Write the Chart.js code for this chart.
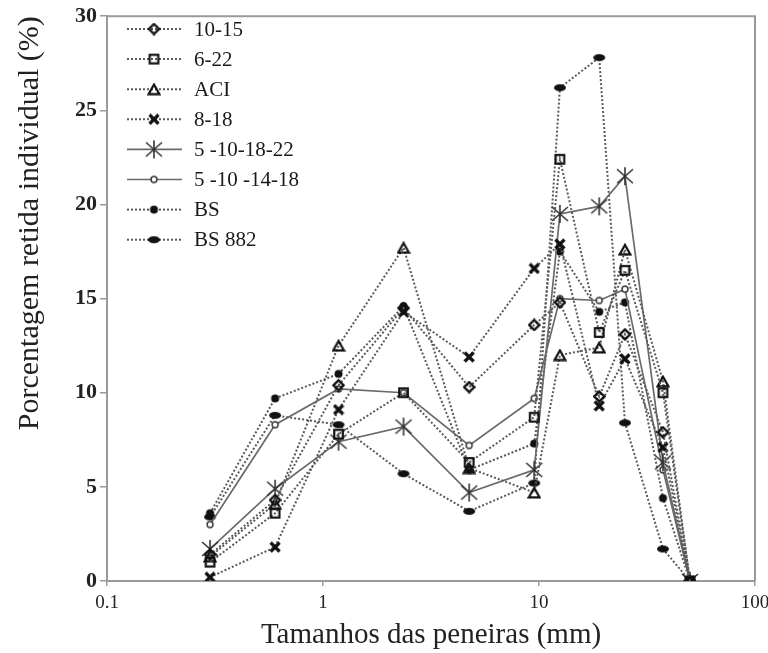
<!DOCTYPE html>
<html>
<head>
<meta charset="utf-8">
<script src="https://cdn.jsdelivr.net/npm/chart.js@4.4.1/dist/chart.umd.min.js"></script>
<style>
html,body{margin:0;padding:0;background:#fff;}
#wrap{width:768px;height:653px;position:relative;}
</style>
</head>
<body>
<div id="wrap"><canvas id="c" width="768" height="653"></canvas></div>
<script>
// sieve sizes (mm)
const sieves = [0.3, 0.6, 1.18, 2.36, 4.75, 9.5, 12.5, 19, 25, 37.5, 50];
const seriesNames = ['10-15', '6-22', 'ACI', '8-18', '5 -10-18-22', '5 -10 -14-18', 'BS', 'BS 882'];
const s10_15    = [1.4, 4.3, 10.4, 14.5, 10.3, 13.6, 14.8,  9.8, 13.1, 7.9, 0];
const s6_22     = [1.0, 3.6,  7.8, 10.0,  6.3,  8.7, 22.4, 13.2, 16.5, 10.0, 0];
const sACI      = [1.3, 4.1, 12.5, 17.7,  6.0,  4.7, 12.0, 12.4, 17.6, 10.6, 0];
const s8_18     = [0.2, 1.8,  9.1, 14.3, 11.9, 16.6, 17.9,  9.3, 11.8, 7.1, 0];
const s5_10_18_22 = [1.7, 4.9, 7.4, 8.2,  4.7,  5.9, 19.5, 19.9, 21.5, 6.3, 0];
const s5_10_14_18 = [3.0, 8.3, 10.2, 10.0, 7.2, 9.7, 15.0, 14.9, 15.5, 5.9, 0];
const sBS       = [3.6, 9.7, 11.0, 14.6,  5.9,  7.3, 17.5, 14.3, 14.8, 4.4, 0];
const sBS882    = [3.4, 8.8,  8.3,  5.7,  3.7,  5.2, 26.2, 27.8,  8.4, 1.7, 0];
const yTicks = [0, 5, 10, 15, 20, 25, 30];
const xTicks = [0.1, 1, 10, 100];

// marker images
function mk(w, h, draw) {
  const c = document.createElement('canvas');
  c.width = w; c.height = h;
  const g = c.getContext('2d');
  g.strokeStyle = '#111'; g.fillStyle = '#111';
  draw(g, w, h);
  return c;
}
const mDiamond = mk(13, 13, g => { g.lineWidth = 2.4; g.beginPath(); g.moveTo(6.5,1.5); g.lineTo(11.5,6.5); g.lineTo(6.5,11.5); g.lineTo(1.5,6.5); g.closePath(); g.stroke(); });
const mSquare = mk(13, 13, g => { g.lineWidth = 2.2; g.strokeRect(2.2, 2.2, 8.6, 8.6); });
const mTri = mk(14, 13, g => { g.lineWidth = 2.2; g.beginPath(); g.moveTo(7,1.8); g.lineTo(12.3,11.3); g.lineTo(1.7,11.3); g.closePath(); g.stroke(); });
const mBow = mk(12, 12, g => { g.lineWidth = 3.2; g.lineCap = 'butt'; g.beginPath(); g.moveTo(1.5,1.5); g.lineTo(10.5,10.5); g.moveTo(10.5,1.5); g.lineTo(1.5,10.5); g.stroke(); g.fillRect(4,4,4,4); });
const mStar = mk(20, 20, g => { g.strokeStyle = '#333'; g.lineWidth = 1.6; g.beginPath(); g.moveTo(2,3); g.lineTo(18,17); g.moveTo(18,3); g.lineTo(2,17); g.moveTo(10,1); g.lineTo(10,19); g.stroke(); });
const mCirc = mk(10, 10, g => { g.fillStyle = '#fff'; g.lineWidth = 1.4; g.strokeStyle = '#333'; g.beginPath(); g.arc(5,5,3,0,Math.PI*2); g.fill(); g.stroke(); });
const mDot = mk(11, 11, g => { g.beginPath(); g.arc(5.5,5.5,4,0,Math.PI*2); g.fill(); });
const mDash = mk(14, 9, g => { g.beginPath(); g.ellipse(7,4.5,6,3.5,0,0,Math.PI*2); g.fill(); });

const markers = [mDiamond, mSquare, mTri, mBow, mStar, mCirc, mDot, mDash];
const values = [s10_15, s6_22, sACI, s8_18, s5_10_18_22, s5_10_14_18, sBS, sBS882];
const solid = [false, false, false, false, true, true, false, false];

const datasets = values.map((vals, i) => ({
  label: seriesNames[i],
  data: vals.map((v, j) => ({x: sieves[j], y: v})),
  borderColor: solid[i] ? '#6a6a6a' : '#5a5a5a',
  borderWidth: solid[i] ? 1.7 : 2,
  borderDash: solid[i] ? [] : [2, 2],
  pointStyle: markers[i],
  pointRadius: 5,
  pointHoverRadius: 5,
  tension: 0,
  fill: false
}));

const SERIF = '"Liberation Serif", "Times New Roman", serif';

const framePlugin = {
  id: 'frame',
  beforeDatasetsDraw(chart) {
    const {ctx, chartArea: a} = chart;
    ctx.save();
    ctx.strokeStyle = '#9a9a9a';
    ctx.lineWidth = 2;
    ctx.beginPath();
    ctx.moveTo(a.left, a.top); ctx.lineTo(a.right, a.top); ctx.lineTo(a.right, a.bottom);
    ctx.stroke();
    ctx.restore();
  }
};

const legendPlugin = {
  id: 'customLegend',
  afterDatasetsDraw(chart) {
    const ctx = chart.ctx;
    ctx.save();
    const x0 = 127, x1 = 182, xm = 154, xt = 194, y0 = 29, dy = 30.1;
    chart.data.datasets.forEach((ds, i) => {
      const y = y0 + i * dy;
      ctx.strokeStyle = ds.borderColor;
      ctx.lineWidth = ds.borderWidth;
      ctx.setLineDash(ds.borderDash);
      ctx.beginPath(); ctx.moveTo(x0, y); ctx.lineTo(x1, y); ctx.stroke();
      ctx.setLineDash([]);
      const m = ds.pointStyle;
      ctx.drawImage(m, xm - m.width / 2, y - m.height / 2);
      ctx.fillStyle = '#1a1a1a';
      ctx.font = '21px ' + SERIF;
      ctx.textBaseline = 'middle';
      ctx.textAlign = 'left';
      ctx.fillText(ds.label, xt, y + 1);
    });
    ctx.restore();
  }
};

new Chart(document.getElementById('c'), {
  type: 'line',
  data: { datasets },
  options: {
    responsive: false,
    animation: false,
    events: [],
    layout: { padding: { top: 16, right: 0, left: 0, bottom: 0 } },
    plugins: { legend: { display: false }, tooltip: { enabled: false } },
    scales: {
      x: {
        type: 'logarithmic',
        min: 0.1, max: 100,
        afterBuildTicks: s => { s.ticks = xTicks.map(v => ({ value: v })); },
        afterFit: s => { s.height = 72; s.paddingRight = 13; },
        grid: { drawOnChartArea: false, drawTicks: true, tickLength: 5, color: '#9a9a9a', lineWidth: 1.5 },
        border: { color: '#9a9a9a', width: 2 },
        ticks: {
          color: '#222', padding: 6, maxRotation: 0, autoSkip: false,
          font: { family: SERIF, size: 19 },
          callback: v => String(v)
        },
        title: {
          display: true, text: 'Tamanhos das peneiras (mm)', color: '#222',
          font: { family: SERIF, size: 29 }, padding: { top: 0, bottom: 0 }
        }
      },
      y: {
        min: 0, max: 30,
        afterBuildTicks: s => { s.ticks = yTicks.map(v => ({ value: v })); },
        afterFit: s => { s.width = 107; },
        grid: { drawOnChartArea: false, drawTicks: true, tickLength: 7, color: '#9a9a9a', lineWidth: 1.5 },
        border: { color: '#9a9a9a', width: 2 },
        ticks: {
          color: '#222', padding: 3,
          font: { family: SERIF, size: 22, weight: 'bold' }
        },
        title: {
          display: true, text: 'Porcentagem retida individual (%)', color: '#222', align: 'end',
          font: { family: SERIF, size: 30 }, padding: { top: 12, bottom: 0 }
        }
      }
    }
  },
  plugins: [framePlugin, legendPlugin]
});
</script>
</body>
</html>
